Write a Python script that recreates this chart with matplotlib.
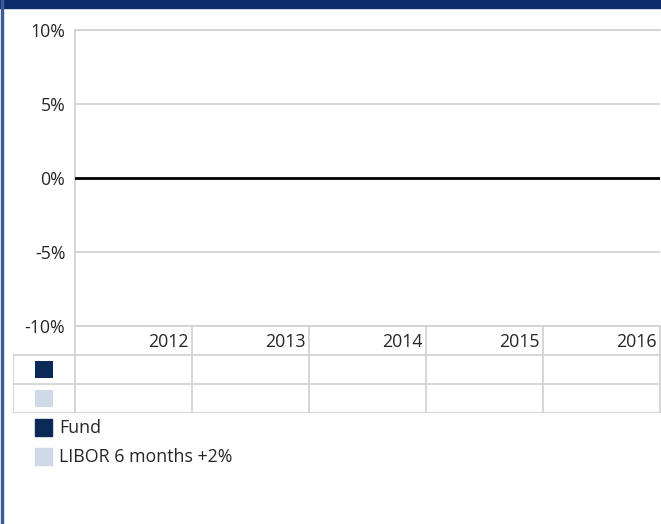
import matplotlib.pyplot as plt
from matplotlib.patches import Rectangle

# dati (nessun valore riportato nel grafico originale)
years = ["2012", "2013", "2014", "2015", "2016"]
series_names = ["Fund", "LIBOR 6 months +2%"]
series_colors = ["#0b2a57", "#d0d9e7"]
fund_values = [None, None, None, None, None]
libor_values = [None, None, None, None, None]
y_ticks = [-10, -5, 0, 5, 10]
y_labels = ["-10%", "-5%", "0%", "5%", "10%"]

plt.rcParams["font.family"] = ["Open Sans", "DejaVu Sans"]
TXT = "#262626"
GRID = "#d0d0d0"
FS = 12.8
W, H = 661, 524

fig = plt.figure(figsize=(W / 100, H / 100), dpi=100)


def box(x0, y0, x1, y1):
    # pixel (da sinistra/alto) -> coordinate figura
    return [x0 / W, 1 - y1 / H, (x1 - x0) / W, (y1 - y0) / H]


# barra del titolo e bordo sinistro
fig.patches.append(Rectangle((0, 1 - 8 / H), 1, 8 / H, transform=fig.transFigure,
                             color="#0c2c6a", zorder=5))
fig.patches.append(Rectangle((1 / W, 0), 2 / W, 1, transform=fig.transFigure,
                             color="#3a5a98", zorder=5))

# area del grafico
ax = fig.add_axes(box(75, 30, 660, 326))
ax.set_xlim(0, len(years))
ax.set_ylim(-10, 10)
ax.set_yticks(y_ticks)
ax.set_yticklabels(y_labels, fontsize=FS, color=TXT)
ax.tick_params(axis="y", length=0, pad=7)
ax.set_xticks([])
ax.grid(axis="y", color=GRID, linewidth=1.2)
for s in ["top", "right", "bottom"]:
    ax.spines[s].set_visible(False)
ax.spines["left"].set_color(GRID)
ax.spines["left"].set_linewidth(1.2)
ax.axhline(-10, color=GRID, linewidth=1.2, clip_on=False)
ax.axhline(10, color=GRID, linewidth=1.2, clip_on=False)
ax.axhline(0, color="black", linewidth=2, zorder=3)
for i, vals in enumerate([fund_values, libor_values]):
    xs = [j + 0.5 for j, v in enumerate(vals) if v is not None]
    ys = [v for v in vals if v is not None]
    ax.bar(xs, ys, width=0.3, color=series_colors[i])

# tabella dati sotto l'asse
key_w = 62 / 117
tab = fig.add_axes(box(13, 326, 661, 413))
tab.set_xlim(-key_w, len(years) + 1 / 117)
tab.set_ylim(3, 0)
tab.axis("off")
n = len(years)
for j in range(n + 1):
    tab.plot([j, j], [0, 3], color=GRID, linewidth=1.2)
tab.plot([-key_w, -key_w], [1, 3], color=GRID, linewidth=1.2)
for r in [1, 2, 3]:
    tab.plot([-key_w, n], [r, r], color=GRID, linewidth=1.2)
for j, yr in enumerate(years):
    tab.text(j + 0.97, 0.55, yr, ha="right", va="center", fontsize=FS, color=TXT)
for i, c in enumerate(series_colors):
    tab.add_patch(Rectangle((-key_w / 2 - 0.075, 1.5 + i - 0.3), 0.15, 0.6,
                            color=c, linewidth=0))

# legenda
for i, (name, c) in enumerate(zip(series_names, series_colors)):
    y0 = 419 + i * 29
    fig.patches.append(Rectangle((35 / W, 1 - (y0 + 17) / H), 17 / W, 17 / H,
                                 transform=fig.transFigure, color=c))
    fig.text(59 / W, 1 - (y0 + 9) / H, name, fontsize=FS, color=TXT, va="center")

plt.savefig("out.png", dpi=100)
